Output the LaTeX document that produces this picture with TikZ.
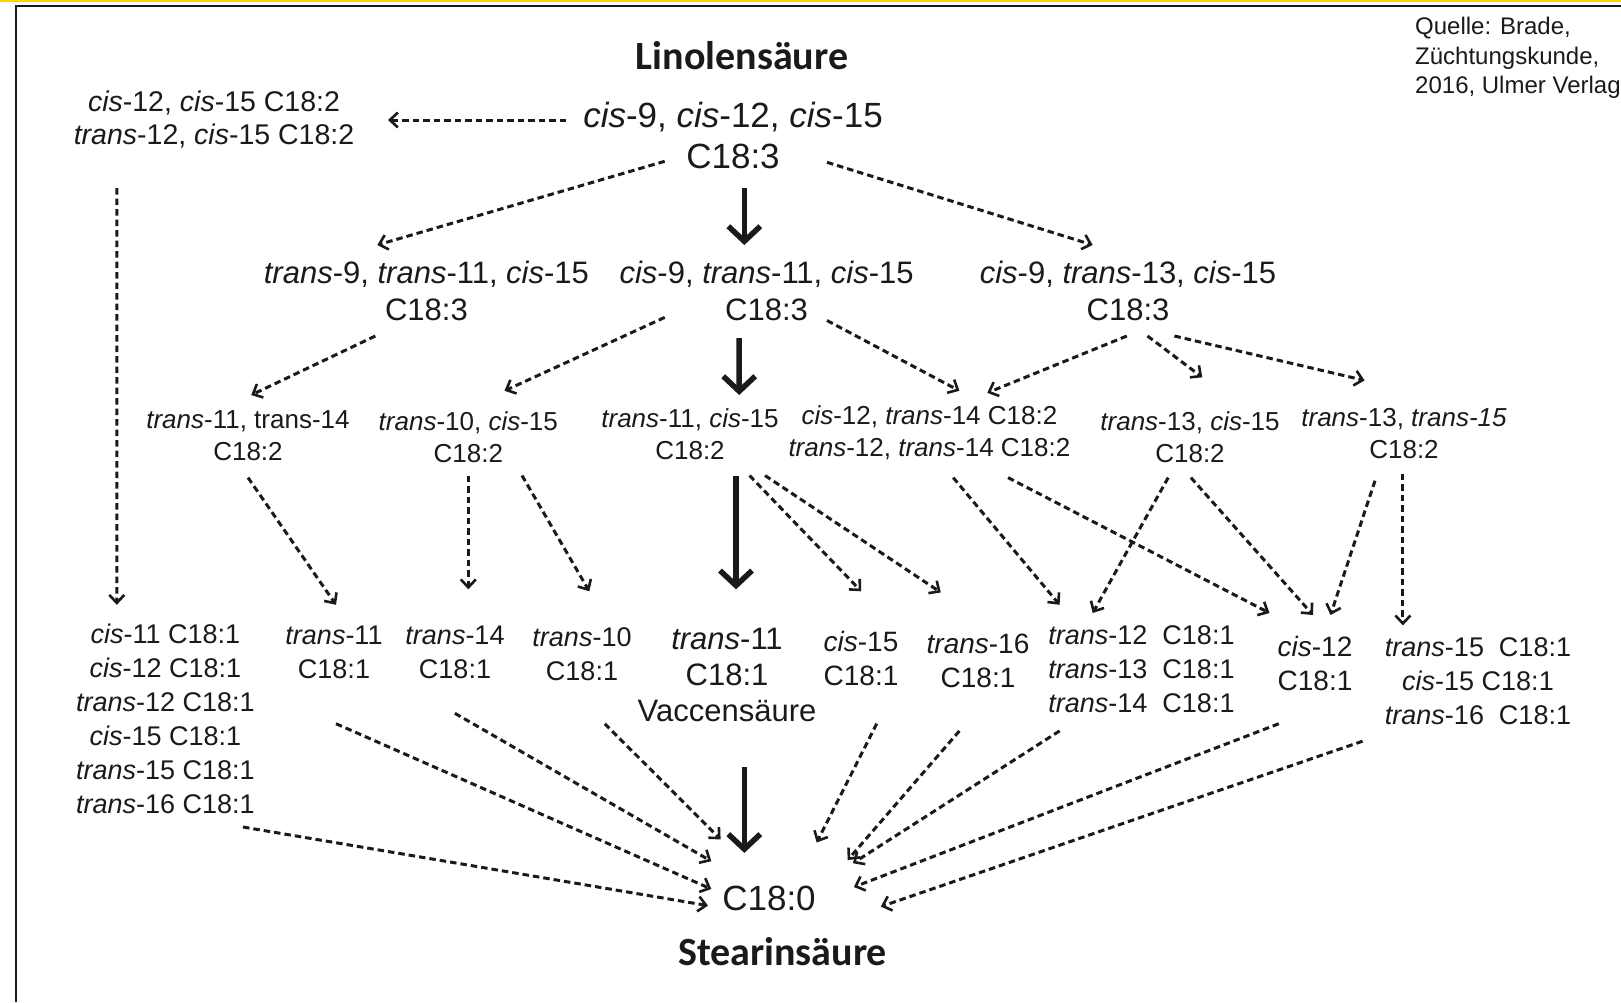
\documentclass[tikz,border=0pt]{standalone}
\usepackage{fontspec}
\setmainfont{Liberation Sans}
\newfontfamily\titlefont{Carlito}
\usetikzlibrary{arrows.meta}
\definecolor{ink}{HTML}{1A1A1A}
\definecolor{gold}{HTML}{FFD400}
\newcommand\Cis{\textit{cis}}
\newcommand\Trans{\textit{trans}}
\begin{document}
\begin{tikzpicture}[x=1pt,y=-1pt,
  lab/.style={inner sep=0pt, align=center, text=ink},
  fA/.style={font=\fontsize{35}{41}\selectfont},
  fB/.style={font=\fontsize{28.5}{33}\selectfont},
  fC/.style={font=\fontsize{31}{37}\selectfont},
  fD/.style={font=\fontsize{26}{32}\selectfont},
  fE/.style={font=\fontsize{27}{34}\selectfont},
  fEE/.style={font=\fontsize{28}{34}\selectfont},
  fV/.style={font=\fontsize{31}{36}\selectfont},
  ftitle/.style={font=\titlefont\bfseries\fontsize{40}{46}\selectfont},
  darr/.style={draw=ink, line width=3pt, dash pattern=on 6.5pt off 4pt,
    -{Straight Barb[length=8pt,width=15pt,line width=2.6pt]}},
  tarr/.style={draw=ink, line width=5.5pt, -{Straight Barb[length=15pt,width=32pt]}}]
\useasboundingbox (0,0) rectangle (1621,1002);
\fill[white] (0,0) rectangle (1621,1002);
% frame
\draw[gold, line width=2.5pt] (0,1) -- (1621,1);
\draw[ink, line width=2pt] (16,1002) -- (16,6) -- (1621,6);

% titles and source
\node[lab, ftitle] (T1) at (742,56) {Linolensäure};
\node[lab, ftitle] (T2) at (782.6,952) {Stearinsäure};
\node[lab, align=left, anchor=west, font=\fontsize{24}{29.5}\selectfont] (src) at (1415,58)
  {Quelle: Brade,\\Züchtungskunde,\\2016, Ulmer Verlag};

% level 1
\node[lab, fA] (A) at (733,135.5) {\Cis-9, \Cis-12, \Cis-15\\C18:3};
\node[lab, fB] (B) at (214,119) {\Cis-12, \Cis-15 C18:2\\\Trans-12, \Cis-15 C18:2};

% level 2
\node[lab, fC] (C1) at (426.4,290.5) {\Trans-9, \Trans-11, \Cis-15\\C18:3};
\node[lab, fC] (C2) at (766.6,290.5) {\Cis-9, \Trans-11, \Cis-15\\C18:3};
\node[lab, fC] (C3) at (1128,290.5) {\Cis-9, \Trans-13, \Cis-15\\C18:3};

% level 3
\node[lab, fD] (D1) at (248,436) {\Trans-11, trans-14\\C18:2};
\node[lab, fD] (D2) at (468.3,437) {\Trans-10, \Cis-15\\C18:2};
\node[lab, fD] (D3) at (690,434) {\Trans-11, \Cis-15\\C18:2};
\node[lab, fD] (D4) at (929.4,433) {\Cis-12, \Trans-14 C18:2\\\Trans-12, \Trans-14 C18:2};
\node[lab, fD] (D5) at (1190,437.3) {\Trans-13, \Cis-15\\C18:2};
\node[lab, fD] (D6) at (1404,434) {\Trans-13, \textit{trans-15}\\C18:2};

% level 4
\node[lab, fE] (E1) at (165.4,718.5) {\Cis-11 C18:1\\\Cis-12 C18:1\\\Trans-12 C18:1\\\Cis-15 C18:1\\\Trans-15 C18:1\\\Trans-16 C18:1};
\node[lab, fE] (E2) at (334,652.4) {\Trans-11\\C18:1};
\node[lab, fE] (E3) at (455,652.5) {\Trans-14\\C18:1};
\node[lab, fE] (E4) at (582,654.4) {\Trans-10\\C18:1};
\node[lab, fV] (E5) at (727,675) {\Trans-11\\C18:1\\Vaccensäure};
\node[lab, fEE] (E6) at (861,658) {\Cis-15\\C18:1};
\node[lab, fEE] (E7) at (978,660.5) {\Trans-16\\C18:1};
\node[lab, fE, align=left] (E8) at (1141.5,669.4) {\Trans-12\ \ C18:1\\\Trans-13\ \ C18:1\\\Trans-14\ \ C18:1};
\node[lab, fEE] (E9) at (1315,663) {\Cis-12\\C18:1};
\node[lab, fE] (E10) at (1478,681) {\Trans-15\ \ C18:1\\\Cis-15 C18:1\\\Trans-16\ \ C18:1};

% level 5
\node[lab, fA] (F) at (769,898.4) {C18:0};

% connectors from A
\draw[darr] ([shift={(-167,-15.5)}]A.center) -- ([shift={(174,1)}]B.center);
\draw[darr] ([shift={(-68.3,25.8)}]A.center) -- ([shift={(-49.1,-45.5)}]C1.center);
\draw[tarr] ([shift={(11.3,52.5)}]A.center) -- ([shift={(-22.3,-45.5)}]C2.center);
\draw[darr] ([shift={(94,26.8)}]A.center) -- ([shift={(-35.3,-45.5)}]C3.center);

% connectors from level 2
\draw[darr] ([shift={(-51.1,45.5)}]C1.center) -- ([shift={(3.2,-41)}]D1.center);
\draw[darr] ([shift={(-101.9,26.9)}]C2.center) -- ([shift={(36.2,-46.2)}]D2.center);
\draw[tarr] ([shift={(-27.4,47.5)}]C2.center) -- ([shift={(49.2,-39)}]D3.center);
\draw[darr] ([shift={(60.4,30)}]C2.center) -- ([shift={(30,-42.2)}]D4.center);
\draw[darr] ([shift={(-1.2,45.5)}]C3.center) -- ([shift={(57.9,-40.2)}]D4.center);
\draw[darr] ([shift={(19.5,45.5)}]C3.center) -- ([shift={(12.3,-60)}]D5.center);
\draw[darr] ([shift={(46.4,45.5)}]C3.center) -- ([shift={(-39.4,-53.6)}]D6.center);
\draw[darr] ([shift={(-97.2,69)}]B.center) -- ([shift={(-48.6,-113.7)}]E1.center);

% connectors from level 3
\draw[darr] ([shift={(0,41.6)}]D1.center) -- ([shift={(2,-47.6)}]E2.center);
\draw[darr] ([shift={(0,38.5)}]D2.center) -- ([shift={(13.3,-63.2)}]E3.center);
\draw[darr] ([shift={(53.7,38.5)}]D2.center) -- ([shift={(7.3,-63.1)}]E4.center);
\draw[tarr] ([shift={(46,41.5)}]D3.center) -- ([shift={(9,-85.7)}]E5.center);
\draw[darr] ([shift={(59.5,41.5)}]D3.center) -- ([shift={(0.2,-66.7)}]E6.center);
\draw[darr] ([shift={(75,41.5)}]D3.center) -- ([shift={(-37.2,-68.1)}]E7.center);
\draw[darr] ([shift={(23.8,44.6)}]D4.center) -- ([shift={(-81.9,-64.6)}]E8.center);
\draw[darr] ([shift={(78.6,44.6)}]D4.center) -- ([shift={(-45.5,-50)}]E9.center);
\draw[darr] ([shift={(-21.8,40.3)}]D5.center) -- ([shift={(-48.8,-56.4)}]E8.center);
\draw[darr] ([shift={(0.9,40.3)}]D5.center) -- ([shift={(-2,-48)}]E9.center);
\draw[darr] ([shift={(-29,46.7)}]D6.center) -- ([shift={(15.5,-48)}]E9.center);
\draw[darr] ([shift={(-1.1,39.5)}]D6.center) -- ([shift={(-75.1,-55.6)}]E10.center);

% connectors to C18:0
\draw[darr] ([shift={(77.6,108.5)}]E1.center) -- ([shift={(-61,7.2)}]F.center);
\draw[darr] ([shift={(2,71.3)}]E2.center) -- ([shift={(-57.7,-9.4)}]F.center);
\draw[darr] ([shift={(-0.1,60.8)}]E3.center) -- ([shift={(-57.7,-37.2)}]F.center);
\draw[darr] ([shift={(22.8,69.3)}]E4.center) -- ([shift={(-48.4,-59)}]F.center);
\draw[tarr] ([shift={(17.3,92)}]E5.center) -- ([shift={(-24.7,-45.5)}]F.center);
\draw[darr] ([shift={(15.7,65.7)}]E6.center) -- ([shift={(47.7,-55.9)}]F.center);
\draw[darr] ([shift={(-18.6,70.4)}]E7.center) -- ([shift={(78.7,-38.4)}]F.center);
\draw[darr] ([shift={(-81.9,61.5)}]E8.center) -- ([shift={(83.9,-35.2)}]F.center);
\draw[darr] ([shift={(-36.2,60.7)}]E9.center) -- ([shift={(84.9,-11.4)}]F.center);
\draw[darr] ([shift={(-115.5,60.2)}]E10.center) -- ([shift={(111.8,8.2)}]F.center);
\end{tikzpicture}
\end{document}
